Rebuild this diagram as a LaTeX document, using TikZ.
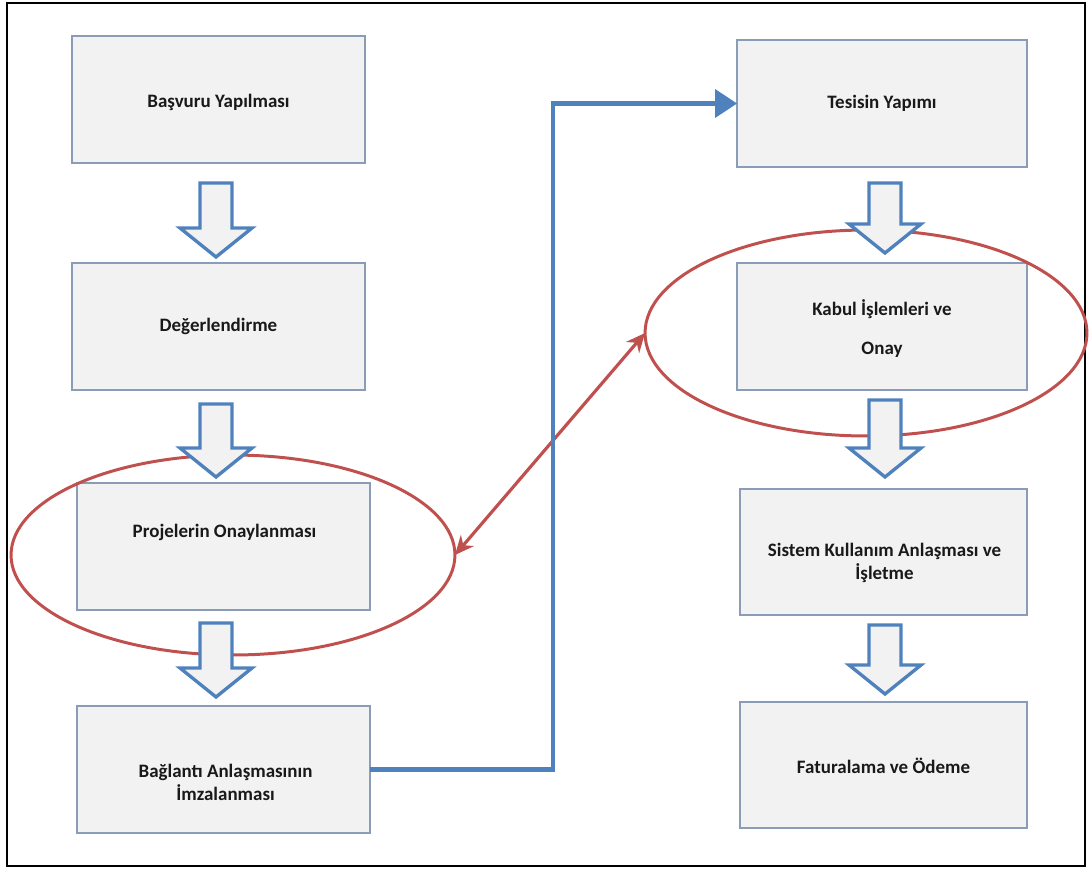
\documentclass[tikz,border=0pt]{standalone}
\usepackage{fontspec}
\setmainfont{Carlito}
\usetikzlibrary{arrows.meta,shapes.geometric,calc}
\definecolor{boxfill}{HTML}{F2F2F2}
\definecolor{boxline}{HTML}{8A9CB6}
\definecolor{arrblue}{HTML}{4F81BD}
\definecolor{ovalred}{HTML}{C0504D}
\newcommand{\blockarrow}[3]{%
  \draw[blockarr] (#1-16,#2) -- (#1+16,#2) -- (#1+16,#3-29) -- (#1+36,#3-29) -- (#1,#3) -- (#1-36,#3-29) -- (#1-16,#3-29) -- cycle;}
\tikzset{
  stepbox/.style={draw=boxline, line width=1.1pt, fill=boxfill, inner sep=0pt, outer sep=0pt},
  txt/.style={align=center, font=\fontsize{10.8}{13}\selectfont\bfseries, text=black!90, inner sep=0pt},
  oval/.style={draw=ovalred, line width=1.7pt, ellipse, inner sep=0pt, outer sep=0pt},
  blockarr/.style={draw=arrblue, line width=1.9pt, fill=boxfill, line join=miter},
  redarrow/.style={draw=ovalred, line width=1.8pt, {Stealth[length=0.38cm,width=0.34cm]}-{Stealth[length=0.38cm,width=0.34cm]}},
  bluearrow/.style={draw=arrblue, line width=2.3pt, -{Triangle[length=0.44cm,width=0.56cm]}},
}
\begin{document}
\begin{tikzpicture}[x=0.02cm,y=-0.02cm]
\useasboundingbox (0,0) rectangle (1092,869);
\draw[black, line width=1.2pt] (7,3) rectangle (1085,866);

% boxes
\node[stepbox, minimum width=5.86cm, minimum height=2.54cm] (b1) at (218.5,99.5) {};
\node[stepbox, minimum width=5.86cm, minimum height=2.54cm] (b2) at (218.5,326.5) {};
\node[stepbox, minimum width=5.86cm, minimum height=2.54cm] (b3) at (223.5,546.5) {};
\node[stepbox, minimum width=5.86cm, minimum height=2.54cm] (b4) at (223.5,769.5) {};
\node[stepbox, minimum width=5.80cm, minimum height=2.54cm] (b5) at (882,103.5) {};
\node[stepbox, minimum width=5.80cm, minimum height=2.54cm] (b6) at (882,326.5) {};
\node[stepbox, minimum width=5.74cm, minimum height=2.52cm] (b7) at (883.5,552) {};
\node[stepbox, minimum width=5.74cm, minimum height=2.52cm] (b8) at (883.5,765) {};

% texts
\node[txt] (t1) at ($(b1.center)+(0,3)$) {Başvuru Yapılması};
\node[txt] (t2) at ($(b2.center)+(0,0)$) {Değerlendirme};
\node[txt] (t3) at ($(b3.center)+(1,-14)$) {Projelerin Onaylanması};
\node[txt] (t4) at ($(b4.center)+(2,13)$) {Bağlantı Anlaşmasının\\İmzalanması};
\node[txt] (t5) at ($(b5.center)+(0,0)$) {Tesisin Yapımı};
\node[txt] (t6) at ($(b6.center)+(0,2)$) {Kabul İşlemleri ve\\[9pt]Onay};
\node[txt] (t7) at ($(b7.center)+(1,11)$) {Sistem Kullanım Anlaşması ve\\İşletme};
\node[txt] (t8) at ($(b8.center)+(0,1)$) {Faturalama ve Ödeme};

% ovals
\node[oval, minimum width=8.88cm, minimum height=4.0cm] (e1) at (233,555) {};
\node[oval, minimum width=8.84cm, minimum height=4.12cm] (e2) at (866,333) {};

% block arrows
\blockarrow{216}{183}{257}
\blockarrow{216}{404}{477}
\blockarrow{216}{623}{697}
\blockarrow{885}{183}{253}
\blockarrow{885}{400}{477}
\blockarrow{885}{625}{694}

% connectors
\draw[redarrow] (e1.east) -- (e2.west);
\coordinate (bend) at (553,103.5);
\draw[bluearrow] (b4.east) -| (bend) -- (b5.west);
\end{tikzpicture}
\end{document}
